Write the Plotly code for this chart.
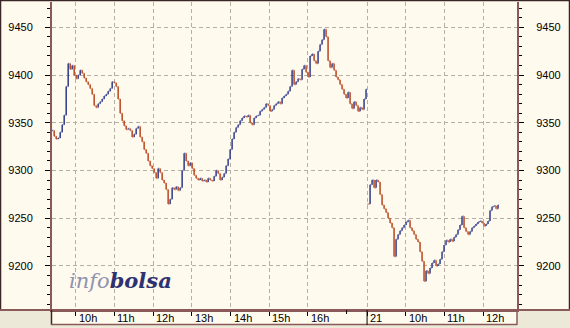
import numpy as np
import plotly.graph_objects as go

# ---------------- data ----------------
# session 1 (day 20): closes of ~3.1-minute bars starting 09:23
day1_close = [
    9342, 9336, 9333, 9334, 9340, 9348, 9358, 9388, 9412, 9406,
    9410, 9400, 9396, 9400, 9405, 9402, 9397, 9393, 9390, 9386,
    9380, 9368, 9366, 9370, 9372, 9375, 9378, 9380, 9383, 9386,
    9393, 9392, 9388, 9375, 9360, 9352, 9347, 9343, 9344, 9342,
    9335, 9338, 9344, 9346, 9335, 9330, 9322, 9318, 9310, 9305,
    9302, 9298, 9292, 9302, 9298, 9290, 9287, 9280, 9265, 9270,
    9282, 9280, 9283, 9279, 9282, 9300, 9318, 9310, 9305, 9308,
    9302, 9295, 9292, 9290, 9292, 9289, 9290, 9288, 9292, 9290,
    9289, 9294, 9300, 9297, 9290, 9293, 9297, 9305, 9312, 9322,
    9333, 9340, 9345, 9348, 9352, 9355, 9357, 9356, 9358, 9350,
    9348, 9355, 9357, 9358, 9362, 9364, 9366, 9370, 9368, 9362,
    9364, 9368, 9370, 9372, 9370, 9376, 9378, 9380, 9383, 9388,
    9405, 9390, 9393, 9396, 9395, 9406, 9410, 9403, 9398, 9420,
    9422, 9415, 9412, 9425, 9432, 9437, 9448, 9440, 9415, 9408,
    9412, 9405, 9398, 9395, 9390, 9385, 9380, 9376, 9382, 9370,
    9365, 9372, 9368, 9362, 9366, 9364, 9375, 9385,
]
# session 2 (day 21): closes starting 09:01
day2_close = [
    9265, 9285, 9290, 9282, 9290, 9288, 9275, 9264, 9260, 9256,
    9250, 9245, 9240, 9210, 9228, 9233, 9237, 9240, 9243, 9246,
    9248, 9240, 9237, 9233, 9228, 9225, 9215, 9205, 9184, 9195,
    9192, 9198, 9203, 9206, 9200, 9202, 9207, 9215, 9222, 9227,
    9225, 9228, 9226, 9230, 9233, 9238, 9243, 9252, 9240, 9236,
    9233, 9236, 9240, 9242, 9244, 9246, 9247, 9245, 9242, 9244,
    9247, 9258, 9262, 9263, 9260, 9264,
]
day1_start_h = 9.39      # 09:23
day2_start_h = 9.026     # 09:01
bar_hours = 0.05168      # ~3.1 minutes per bar
session_shift = 8.53     # day 2 plotted right after day 1 close

hour_ticks_day1 = [10, 11, 12, 13, 14, 15, 16]
hour_labels_day1 = ["10h", "11h", "12h", "13h", "14h", "15h", "16h"]
hour_ticks_day2 = [10, 11, 12]
hour_labels_day2 = ["10h", "11h", "12h"]
day2_label = "21"
y_ticks = [9200, 9250, 9300, 9350, 9400, 9450]

# ---------------- build series ----------------
t1 = day1_start_h + bar_hours * np.arange(len(day1_close))
t2 = day2_start_h + bar_hours * np.arange(len(day2_close)) + session_shift
x_all = np.concatenate([t1, t2])
close = np.array(day1_close + day2_close, dtype=float)
opens = np.concatenate([[day1_close[0]], day1_close[:-1], [day2_close[0]], day2_close[:-1]]).astype(float)
high = np.maximum(opens, close)
low = np.minimum(opens, close)

W, H = 570, 328
L, R, T, B = 52, 53, 2, 18
PW, PH = W - L - R, H - T - B


def px(xp):
    return (xp - L) / PW


def py(yp):
    return (H - B - yp) / PH


CREAM = "#fffaee"
GREY = "#ece9d8"
BROWN = "#8a5a5a"
DARK = "#3a2626"
GRID = "#b4b0a4"

fig = go.Figure()
fig.add_trace(go.Ohlc(
    x=x_all, open=opens, high=high, low=low, close=close,
    increasing=dict(line=dict(color="#2f3a8a", width=1.5)),
    decreasing=dict(line=dict(color="#b8461e", width=1.5)),
    tickwidth=0.25, showlegend=False, hoverinfo="skip",
))
# invisible trace to carry the right y axis
fig.add_trace(go.Scatter(x=[x_all[0]], y=[close[0]], yaxis="y2",
                         mode="markers", marker=dict(opacity=0),
                         showlegend=False, hoverinfo="skip"))

grid_x = hour_ticks_day1 + [9 + session_shift] + [h + session_shift for h in hour_ticks_day2]

yax = dict(
    range=[9153.9, 9476.5], tickvals=y_ticks, ticks="outside", ticklen=5,
    tickcolor="#000000", tickwidth=1,
    minor=dict(dtick=10, ticks="outside", ticklen=3, tickcolor="#000000", showgrid=False),
    showline=True, linecolor=BROWN, linewidth=2,
    tickfont=dict(family="Liberation Sans, Arial", size=11, color="#000000"),
    fixedrange=True, zeroline=False,
)
fig.update_layout(
    width=W, height=H,
    margin=dict(l=L, r=R, t=T, b=B, pad=0),
    paper_bgcolor=CREAM, plot_bgcolor=CREAM,
    xaxis=dict(
        range=[9.385, 21.406], tickvals=grid_x, ticks="outside", ticklen=4,
        tickcolor="#000000", showticklabels=False,
        showgrid=True, gridcolor=GRID, griddash="4px,3px", gridwidth=1,
        showline=True, linecolor=BROWN, linewidth=2,
        rangeslider=dict(visible=False), zeroline=False, fixedrange=True,
    ),
    yaxis=dict(**yax, side="left", showgrid=True, gridcolor=GRID,
               griddash="4px,3px", gridwidth=1, ticklabelstandoff=10),
    yaxis2=dict(**yax, side="right", overlaying="y", matches="y",
                showgrid=False, ticklabelstandoff=10),
    showlegend=False,
)

shapes = []
# grey corners below the side panels and the label strip
shapes.append(dict(type="rect", xref="paper", yref="paper", x0=px(0), x1=px(51), y0=py(328), y1=py(310),
                   fillcolor=GREY, line=dict(width=0), layer="below"))
shapes.append(dict(type="rect", xref="paper", yref="paper", x0=px(517), x1=px(570), y0=py(328), y1=py(310),
                   fillcolor=GREY, line=dict(width=0), layer="below"))
shapes.append(dict(type="rect", xref="paper", yref="paper", x0=px(51), x1=px(517), y0=py(328), y1=py(325),
                   fillcolor=GREY, line=dict(width=0), layer="below"))
# outer frame
for (x0, y0, x1, y1, c, w) in [
    (0, 0.5, 570, 0.5, DARK, 1.5),      # top
    (0.5, 0, 0.5, 310, DARK, 1.5),      # left
    (569.5, 0, 569.5, 310, DARK, 1.5),  # right
    (0, 310, 570, 310, BROWN, 2),       # bottom of panels
    (51.5, 310, 51.5, 325, DARK, 1.5),  # strip left
    (517, 310, 517, 325, BROWN, 1.5),   # strip right
    (51, 324.5, 517, 324.5, BROWN, 1.5),  # strip bottom
]:
    shapes.append(dict(type="line", xref="paper", yref="paper", x0=px(x0), x1=px(x1),
                       y0=py(y0), y1=py(y1), line=dict(color=c, width=w)))
# unlabeled 17h tick and day separator tick
shapes.append(dict(type="line", xref="x", yref="paper", x0=17, x1=17, y0=py(310), y1=py(314),
                   line=dict(color="#000000", width=1)))
shapes.append(dict(type="line", xref="x", yref="paper", x0=9 + session_shift, x1=9 + session_shift,
                   y0=py(310), y1=py(325), line=dict(color="#000000", width=1)))
fig.update_layout(shapes=shapes)

ann = []
for h, lab in zip(hour_ticks_day1, hour_labels_day1):
    ann.append(dict(x=h, xref="x", y=py(311), yref="paper", text=lab, showarrow=False,
                    xanchor="left", yanchor="top", xshift=2, borderpad=0,
                    font=dict(family="Liberation Sans, Arial", size=11, color="#000000")))
ann.append(dict(x=9 + session_shift, xref="x", y=py(311), yref="paper", text=day2_label, showarrow=False,
                xanchor="left", yanchor="top", xshift=2, borderpad=0,
                font=dict(family="Liberation Sans, Arial", size=11, color="#000000")))
for h, lab in zip(hour_ticks_day2, hour_labels_day2):
    ann.append(dict(x=h + session_shift, xref="x", y=py(311), yref="paper", text=lab, showarrow=False,
                    xanchor="left", yanchor="top", xshift=2, borderpad=0,
                    font=dict(family="Liberation Sans, Arial", size=11, color="#000000")))
# watermark
ann.append(dict(x=px(68), xref="paper", y=py(294), yref="paper", showarrow=False,
                xanchor="left", yanchor="bottom", borderpad=0,
                text="<i><span style='color:#9092b2'>info</span><b><span style='color:#2e3272'>bolsa</span></b></i>",
                font=dict(family="DejaVu Serif", size=21)))
fig.update_layout(annotations=ann)

fig.write_html("out.html")
